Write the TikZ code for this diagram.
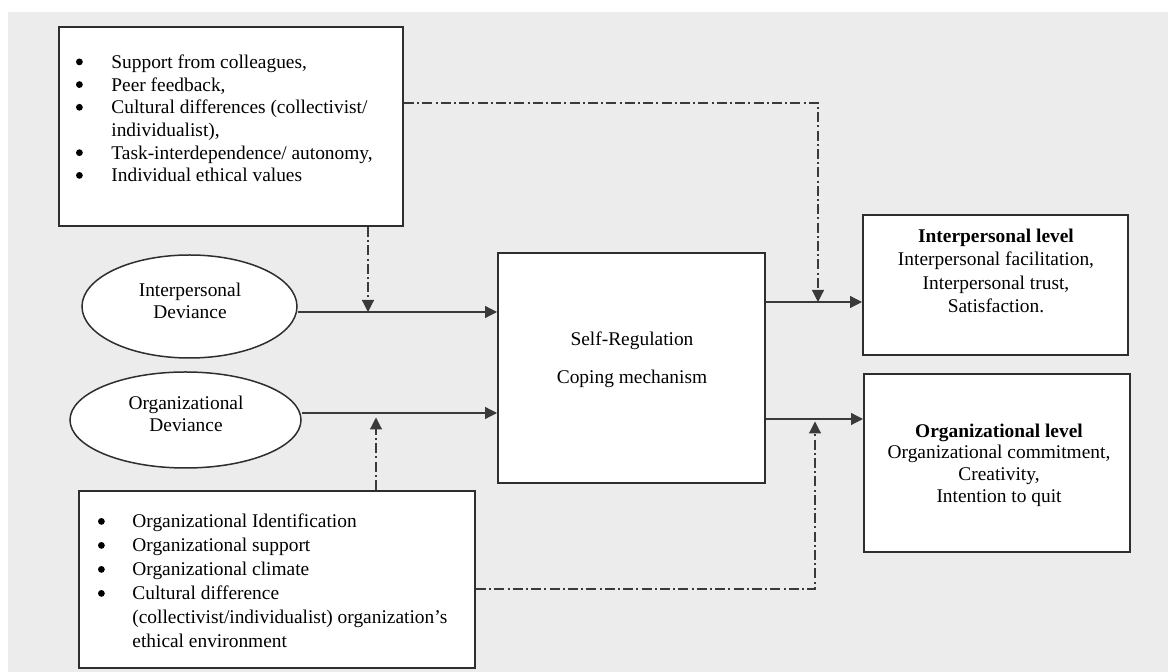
\documentclass[tikz,border=0pt]{standalone}
\usepackage{fontspec}
\setmainfont{Liberation Serif}
\usetikzlibrary{arrows.meta,shapes.geometric,calc}
\definecolor{bg}{HTML}{ECECEC}
\definecolor{ln}{HTML}{2E2E2E}
\definecolor{cn}{HTML}{3A3A3A}
\newcommand{\bul}{\tikz[baseline=-3.3pt]\fill[black] (0,0) circle (1.7pt);}
\begin{document}
\begin{tikzpicture}[x=0.5pt,y=-0.5pt,
  box/.style={draw=ln, line width=1pt, fill=white, rectangle, inner sep=0pt},
  oval/.style={draw=ln, line width=0.75pt, fill=white, ellipse, inner sep=0pt},
  conn/.style={draw=cn, line width=0.6pt, -{Triangle[length=6pt,width=6pt]}},
  dconn/.style={conn, dash pattern=on 5pt off 1.6pt on 1pt off 1.6pt},
  txt/.style={inner sep=0pt, align=center, text=black},
  f/.style={font=\fontsize{9.7}{#1}\selectfont}
]
\useasboundingbox (0,0) rectangle (1168,672);
\fill[bg] (8,12) rectangle (1168,672);

% boxes and ovals
\node[box, minimum width=172pt, minimum height=99.5pt] (t) at (231,126.5) {};
\node[box, minimum width=198pt, minimum height=88.5pt] (b) at (277,579.5) {};
\node[oval, minimum width=107.5pt, minimum height=51.5pt] (e1) at (189.5,306.5) {};
\node[oval, minimum width=115.5pt, minimum height=48pt] (e2) at (185.5,420) {};
\node[box, minimum width=133.5pt, minimum height=115pt] (c) at (631.5,368) {};
\node[box, minimum width=132.5pt, minimum height=70pt] (r1) at (995.5,285) {};
\node[box, minimum width=133pt, minimum height=89pt] (r2) at (997,463) {};

% texts
\node[txt, f=11.35, anchor=base west] (tlist) at (75.6,68.5) {%
\begin{tabular}[t]{@{}p{17.7pt}@{}l@{}}
\bul & Support from colleagues,\\
\bul & Peer feedback,\\
\bul & Cultural differences (collectivist/\\
 & individualist),\\
\bul & Task-interdependence/ autonomy,\\
\bul & Individual ethical values
\end{tabular}};
\node[txt, f=12, anchor=base west] (blist) at (97.6,528) {%
\begin{tabular}[t]{@{}p{17.2pt}@{}l@{}}
\bul & Organizational Identification\\
\bul & Organizational support\\
\bul & Organizational climate\\
\bul & Cultural difference\\
 & (collectivist/individualist) organization’s\\
 & ethical environment
\end{tabular}};
\node[txt, f=11] (e1t) at (190,301) {Interpersonal\\Deviance};
\node[txt, f=11] (e2t) at (186,414) {Organizational\\Deviance};
\node[txt, f=11.4] (ct) at (632,360) {Self-Regulation\\[7.6pt]Coping mechanism};
\node[txt, f=11.65] (r1t) at (996,271) {\textbf{Interpersonal level}\\Interpersonal facilitation,\\Interpersonal trust,\\Satisfaction.};
\node[txt, f=10.85] (r2t) at (999,465) {\textbf{Organizational level}\\Organizational commitment,\\Creativity,\\Intention to quit};

% solid connectors
\coordinate (p1s) at ([yshift=-2.75pt]e1.east);
\coordinate (p2s) at ([yshift=3.5pt]e2.east);
\coordinate (p3s) at ([yshift=33pt]c.east);
\coordinate (p4s) at ([yshift=-25.5pt]c.east);
\coordinate (p3e) at (p3s -| r1.west);
\coordinate (p4e) at (p4s -| r2.west);
\draw[conn] (p1s) -- (p1s -| c.west);
\draw[conn] (p2s) -- (p2s -| c.west);
\draw[conn] (p3s) -- (p3e);
\draw[conn] (p4s) -- (p4e);

% dash-dot moderators
\coordinate (q1) at ($(t.south)+(137,0)$);
\draw[dconn] (q1) -- (q1 |- p1s);
\draw[dconn] ([yshift=11.75pt]t.east) -| ($(p3e)+(-44,0)$);
\coordinate (q2) at ($(b.north)+(99,0)$);
\draw[dconn] (q2) -- ($(q2 |- p2s)+(0,4.5)$);
\draw[dconn] ([yshift=-4.75pt]b.east) -| ($(p4e)+(-48,2.5)$);
\end{tikzpicture}
\end{document}
